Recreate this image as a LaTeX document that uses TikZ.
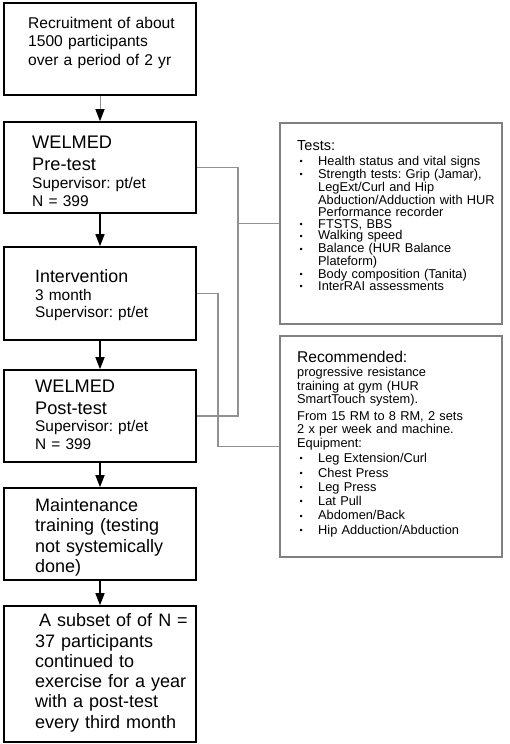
\documentclass[tikz,border=0pt]{standalone}
\usepackage{fontspec}
\setmainfont{Liberation Sans}
\usetikzlibrary{arrows.meta}
\definecolor{cgray}{RGB}{145,145,145}
\definecolor{bgray}{RGB}{128,128,128}
\newcommand\bl{\makebox[21pt][l]{\hspace{2.5pt}\raisebox{0.8pt}{\fontsize{9}{9}\selectfont •}}}
\newcommand\ind{\hspace*{21pt}}
\newcommand\fs[2]{\fontsize{#1}{#2}\selectfont}
\frenchspacing
\begin{document}
\begin{tikzpicture}[x=1pt,y=-1pt,
 box/.style={draw=black,line width=1.6pt,inner sep=0pt,minimum width=192pt},
 rbox/.style={draw=bgray,line width=1.4pt,inner sep=0pt,minimum width=222pt},
 txt/.style={anchor=base west,inner sep=0pt,align=left,text width=210pt},
 flow/.style={line width=1.4pt,-{Triangle[width=9pt,length=12pt]}},
 link/.style={draw=cgray,line width=1.5pt}]
\useasboundingbox (0,0) rectangle (510,744);
\fill[white] (0,0) rectangle (510,744);
% left boxes
\node[box,minimum height=92pt] (b1) at (100,49) {};
\node[box,minimum height=91pt] (b2) at (100,167.5) {};
\node[box,minimum height=93pt] (b3) at (100,293.5) {};
\node[box,minimum height=92pt] (b4) at (100,416) {};
\node[box,minimum height=92pt] (b5) at (100,534) {};
\node[box,minimum height=136pt] (b6) at (100,674) {};
% right boxes
\node[rbox,minimum height=201pt] (tests) at (391,223.5) {};
\node[rbox,minimum height=221pt] (rec) at (391,446.5) {};
% texts
\node[txt,font=\fs{15.6}{18.5}] (t1) at (28,28) {Recruitment of about\\1500 participants\\over a period of 2 yr};
\node[txt,font=\fs{18.2}{21.7}] (t2a) at (32,148.3) {WELMED\\Pre-test};
\node[txt,font=\fs{15.5}{17.7}] (t2b) at (32,188.3) {Supervisor: pt/et\\N = 399};
\node[txt,font=\fs{17.8}{17.8}] (t3a) at (35,282.7) {Intervention};
\node[txt,font=\fs{15.4}{17.3}] (t3b) at (35,300) {3 month\\Supervisor: pt/et};
\node[txt,font=\fs{18.2}{21.7}] (t4a) at (35,392.3) {WELMED\\Post-test};
\node[txt,font=\fs{15.4}{17.3}] (t4b) at (35,431.7) {Supervisor: pt/et\\N = 399};
\node[txt,font=\fs{18}{20.2}] (t5) at (35,511.7) {Maintenance\\training (testing\\not systemically\\done)};
\node[txt,font=\fs{18}{20.3}] (t6) at (35,626.7) {\hspace*{4pt}A subset of of N =\\37 participants\\continued to\\exercise for a year\\with a post-test\\every third month};
\node[txt,font=\fs{14.5}{14.5}] (tt) at (297,150) {Tests:};
\node[txt,font=\fs{12.8}{11.9}] (tl) at (297,165.5) {\bl Health status and vital signs\\ \bl Strength tests: Grip (Jamar),\\ \ind LegExt/Curl and Hip\\ \ind Abduction/Adduction with HUR\\ \ind Performance recorder\\ \bl FTSTS, BBS\\ \bl Walking speed\\ \bl Balance (HUR Balance\\ \ind Plateform)\\ \bl Body composition (Tanita)\\ \bl InterRAI assessments};
\node[txt,font=\fs{15.6}{15.6}] (rt) at (297,362.7) {Recommended:};
\node[txt,font=\fs{12.8}{13.3}] (r1) at (297,376.7) {progressive resistance\\training at gym (HUR\\SmartTouch system).};
\node[txt,font=\fs{12.8}{13.8}] (r2) at (297,420) {From 15 RM to 8 RM, 2 sets\\2 x per week and machine.\\Equipment:};
\node[txt,font=\fs{12.8}{14.3}] (r3) at (297,462.7) {\bl Leg Extension/Curl\\ \bl Chest Press\\ \bl Leg Press\\ \bl Lat Pull\\ \bl Abdomen/Back\\ \bl Hip Adduction/Abduction};
% arrows
\draw[flow,draw=cgray,line width=1pt,-{Triangle[width=9pt,length=12pt,color=black]}] (b1.south) -- (b2.north);
\draw[flow] (b2.south) -- (b3.north);
\draw[flow] (b3.south) -- (b4.north);
\draw[flow] (b4.south) -- (b5.north);
\draw[flow] (b5.south) -- (b6.north);
% gray links
\coordinate (j1) at (238,0);
\coordinate (j2) at (218,0);
\draw[link] (b2.east) -- (b2.east -| j1) -- (b4.east -| j1) -- (b4.east);
\draw[link] (tests.west -| j1) -- (tests.west);
\draw[link] (b3.east) -- (b3.east -| j2) -- (rec.west -| j2) -- (rec.west);
\end{tikzpicture}
\end{document}
